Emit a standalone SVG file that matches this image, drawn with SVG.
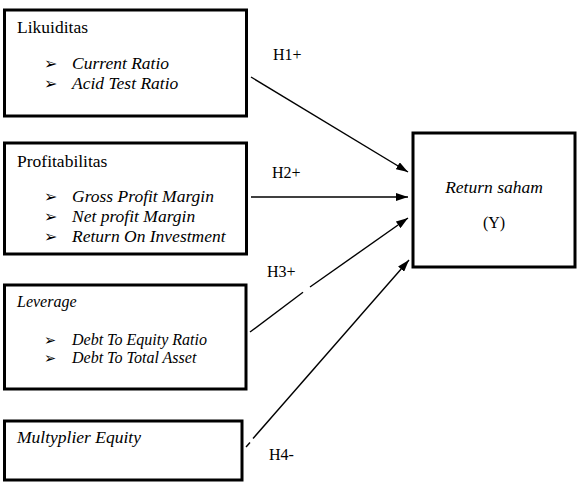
<svg xmlns="http://www.w3.org/2000/svg" width="578" height="487" viewBox="0 0 578 487">
  <style>
    .box { fill: #fff; stroke: #000; stroke-width: 3; }
    text { font-family: 'Liberation Serif', 'Times New Roman', Times, 'DejaVu Serif', serif; font-size: 17.5px; fill: #000; }
    .i { font-style: italic; }
    .s { font-size: 16px; }
    .b { font-family: 'DejaVu Sans', sans-serif; font-size: 16px; }
    .bs { font-family: 'DejaVu Sans', sans-serif; font-size: 14.5px; }
    .ln { stroke: #000; stroke-width: 1.4; fill: none; }
  </style>
  <defs>
    <marker id="ah" viewBox="0 0 12 8" refX="12" refY="4" markerWidth="12" markerHeight="8" markerUnits="userSpaceOnUse" orient="auto">
      <path d="M0,0 L12,4 L0,8 Z" fill="#000"/>
    </marker>
  </defs>
  <rect width="578" height="487" fill="#fff"/>

  <g id="likuiditas">
    <rect class="box" x="4.5" y="10" width="242" height="106"/>
    <text x="17" y="33">Likuiditas</text>
    <text class="b" x="44" y="69">➢</text>
    <text class="i" x="72" y="69">Current Ratio</text>
    <text class="b" x="44" y="89">➢</text>
    <text class="i" x="72" y="89">Acid Test Ratio</text>
  </g>

  <g id="profitabilitas">
    <rect class="box" x="4.5" y="143" width="242" height="111"/>
    <text x="17" y="167">Profitabilitas</text>
    <text class="b" x="44" y="202">➢</text>
    <text class="i" x="72" y="202">Gross Profit Margin</text>
    <text class="b" x="44" y="222">➢</text>
    <text class="i" x="72" y="222">Net profit Margin</text>
    <text class="b" x="44" y="242">➢</text>
    <text class="i" x="72" y="242">Return On Investment</text>
  </g>

  <g id="leverage">
    <rect class="box" x="4.5" y="285" width="241.5" height="104"/>
    <text class="i s" x="17" y="307">Leverage</text>
    <text class="bs" x="44" y="345">➢</text>
    <text class="i s" x="72" y="345">Debt To Equity Ratio</text>
    <text class="bs" x="44" y="363">➢</text>
    <text class="i s" x="72" y="363">Debt To Total Asset</text>
  </g>

  <g id="multyplier">
    <rect class="box" x="4.5" y="421" width="237.5" height="59"/>
    <text class="i" x="17" y="443">Multyplier Equity</text>
  </g>

  <g id="return-saham">
    <rect class="box" x="413" y="133" width="162" height="134"/>
    <text class="i" x="494" y="193" text-anchor="middle">Return saham</text>
    <text class="s" x="494" y="228" text-anchor="middle">(Y)</text>
  </g>

  <g id="connectors">
    <line class="ln" x1="251" y1="77" x2="408" y2="172" marker-end="url(#ah)"/>
    <line class="ln" x1="251" y1="197" x2="408" y2="197" marker-end="url(#ah)"/>
    <line class="ln" x1="250" y1="332" x2="303" y2="292.3"/>
    <line class="ln" x1="310" y1="287" x2="408" y2="218" marker-end="url(#ah)"/>
    <line class="ln" x1="246" y1="447" x2="250" y2="442.5"/>
    <line class="ln" x1="253" y1="438.5" x2="409" y2="260" marker-end="url(#ah)"/>
  </g>

  <g id="labels">
    <text class="s" x="273" y="60">H1+</text>
    <text class="s" x="272" y="178">H2+</text>
    <text class="s" x="267" y="277">H3+</text>
    <text class="s" x="269" y="460">H4-</text>
  </g>
</svg>
